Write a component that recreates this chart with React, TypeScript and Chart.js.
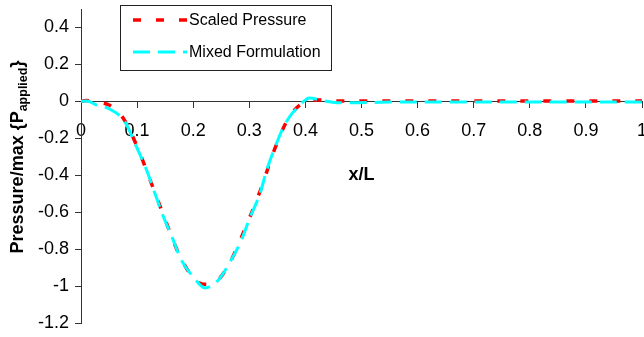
import React, { useEffect, useRef } from "react";
import { Chart, registerables } from "chart.js";

Chart.register(...registerables);

// ---- data ----
const seriesNames = ["Scaled Pressure", "Mixed Formulation"];
const seriesColors = ["#ff0000", "#00ffff"];

const xScaled = [0, 0.01, 0.025, 0.05, 0.075, 0.1, 0.125, 0.15, 0.175, 0.2, 0.22, 0.245, 0.27, 0.295, 0.32, 0.345, 0.37, 0.395, 0.42, 0.45, 0.5, 0.6, 0.7, 0.8, 0.9, 1.0];
const yScaled = [0, 0.004, -0.004, -0.02, -0.09, -0.245, -0.44, -0.64, -0.83, -0.955, -0.99, -0.965, -0.845, -0.67, -0.48, -0.26, -0.09, -0.01, 0.008, 0.002, 0.002, 0.002, 0.002, 0.002, 0.002, 0.002];

const xMixed = [0, 0.01, 0.028, 0.05, 0.078, 0.099, 0.117, 0.132, 0.147, 0.162, 0.179, 0.2, 0.221, 0.245, 0.266, 0.286, 0.301, 0.319, 0.331, 0.346, 0.361, 0.373, 0.387, 0.399, 0.407, 0.43, 0.456, 0.48, 0.55, 0.65, 0.75, 0.85, 0.95, 1.0];
const yMixed = [0, 0.002, -0.02, -0.04, -0.11, -0.247, -0.373, -0.5, -0.625, -0.733, -0.86, -0.95, -1.01, -0.967, -0.868, -0.75, -0.63, -0.5, -0.373, -0.247, -0.139, -0.078, -0.031, 0.005, 0.018, 0.005, -0.007, -0.008, -0.004, -0.003, -0.003, -0.003, -0.003, -0.003];

const xTicks = [0, 0.1, 0.2, 0.3, 0.4, 0.5, 0.6, 0.7, 0.8, 0.9, 1];
const yTicks = [-1.2, -1, -0.8, -0.6, -0.4, -0.2, 0, 0.2, 0.4];
const xTitle = "x/L";
const yTitleMain = "Pressure/max {P";
const yTitleSub = "applied";
const yTitleEnd = "}";

const FONT = "'Liberation Sans', Arial, Helvetica, sans-serif";
const AXIS_COLOR = "#333";

const fmt = (v: number) => String(Math.round(v * 10) / 10);

const overlayPlugin = {
  id: "overlay",
  afterDraw(chart: any) {
    const ctx = chart.ctx as CanvasRenderingContext2D;
    ctx.save();
    ctx.fillStyle = "#000";

    // x title
    ctx.font = `bold 18px ${FONT}`;
    ctx.textAlign = "center";
    ctx.textBaseline = "middle";
    const xs = chart.scales.x;
    ctx.fillText(xTitle, xs.getPixelForValue(0.5), 175);

    // y title with subscript
    ctx.save();
    ctx.translate(23, 157);
    ctx.rotate(-Math.PI / 2);
    ctx.textAlign = "left";
    ctx.textBaseline = "alphabetic";
    const mainFont = `bold 18px ${FONT}`;
    const subFont = `bold 12.5px ${FONT}`;
    ctx.font = mainFont;
    const w1 = ctx.measureText(yTitleMain).width;
    const w3 = ctx.measureText(yTitleEnd).width;
    ctx.font = subFont;
    const w2 = ctx.measureText(yTitleSub).width;
    const total = w1 + w2 + w3;
    let tx = -total / 2;
    ctx.font = mainFont;
    ctx.fillText(yTitleMain, tx, 0);
    tx += w1;
    ctx.font = subFont;
    ctx.fillText(yTitleSub, tx, 4);
    tx += w2;
    ctx.font = mainFont;
    ctx.fillText(yTitleEnd, tx, 0);
    ctx.restore();

    // legend
    const lx = 120, ly = 5, lw = 211, lh = 65;
    ctx.fillStyle = "#fff";
    ctx.fillRect(lx, ly, lw, lh);
    ctx.strokeStyle = "#222";
    ctx.lineWidth = 1;
    ctx.strokeRect(lx + 0.5, ly + 0.5, lw, lh);
    const rows = [20, 52];
    chart.data.datasets.forEach((ds: any, i: number) => {
      const y = rows[i];
      ctx.save();
      ctx.strokeStyle = ds.borderColor;
      ctx.lineWidth = ds.borderWidth;
      ctx.setLineDash(ds.borderDash);
      ctx.beginPath();
      ctx.moveTo(133, y);
      ctx.lineTo(187, y);
      ctx.stroke();
      ctx.restore();
      ctx.fillStyle = "#000";
      ctx.font = `16px ${FONT}`;
      ctx.textAlign = "left";
      ctx.textBaseline = "middle";
      ctx.fillText(ds.label, 189, y + 1);
    });
    ctx.restore();
  },
};

export default function App() {
  const ref = useRef<HTMLCanvasElement | null>(null);

  useEffect(() => {
    document.body.style.margin = "0";
    const canvas = ref.current;
    if (!canvas) return;
    const chart = new Chart(canvas, {
      type: "line",
      data: {
        datasets: [
          {
            label: seriesNames[0],
            data: xScaled.map((x, i) => ({ x, y: yScaled[i] })),
            borderColor: seriesColors[0],
            borderWidth: 3.5,
            borderDash: [8, 15],
            pointRadius: 0,
            fill: false,
            cubicInterpolationMode: "monotone",
            order: 1,
          },
          {
            label: seriesNames[1],
            data: xMixed.map((x, i) => ({ x, y: yMixed[i] })),
            borderColor: seriesColors[1],
            borderWidth: 3,
            borderDash: [17, 8],
            pointRadius: 0,
            fill: false,
            cubicInterpolationMode: "monotone",
            order: 0,
          },
        ],
      },
      options: {
        animation: false,
        responsive: false,
        maintainAspectRatio: false,
        layout: { padding: { top: 9, right: 2, bottom: 14, left: 0 } },
        plugins: {
          legend: { display: false },
          tooltip: { enabled: false },
        },
        scales: {
          x: {
            type: "linear",
            min: 0,
            max: 1,
            position: { y: 0 } as any,
            afterBuildTicks: (s: any) => {
              s.ticks = xTicks.map((v) => ({ value: v }));
            },
            afterFit: (s: any) => {
              s.paddingLeft = 0;
              s.paddingRight = 0;
            },
            ticks: {
              callback: (v: any) => fmt(Number(v)),
              font: { family: FONT, size: 18 },
              color: "#000",
              maxRotation: 0,
              autoSkip: false,
              padding: 13,
            },
            grid: { drawOnChartArea: false, drawTicks: true, tickLength: 6, color: AXIS_COLOR },
            border: { color: AXIS_COLOR, width: 1 },
          },
          y: {
            type: "linear",
            min: -1.2,
            max: 0.5,
            afterBuildTicks: (s: any) => {
              s.ticks = yTicks.map((v) => ({ value: v }));
            },
            afterFit: (s: any) => {
              s.width = 81;
              s.paddingTop = 0;
              s.paddingBottom = 0;
            },
            ticks: {
              callback: (v: any) => fmt(Number(v)),
              font: { family: FONT, size: 18 },
              color: "#000",
              autoSkip: false,
              padding: 6,
            },
            grid: { drawOnChartArea: false, drawTicks: true, tickLength: 6, color: AXIS_COLOR },
            border: { color: AXIS_COLOR, width: 1 },
          },
        },
      },
      plugins: [overlayPlugin],
    });
    return () => chart.destroy();
  }, []);

  return (
    <canvas
      ref={ref}
      width={644}
      height={337}
      style={{ display: "block", width: 644, height: 337 }}
    />
  );
}
